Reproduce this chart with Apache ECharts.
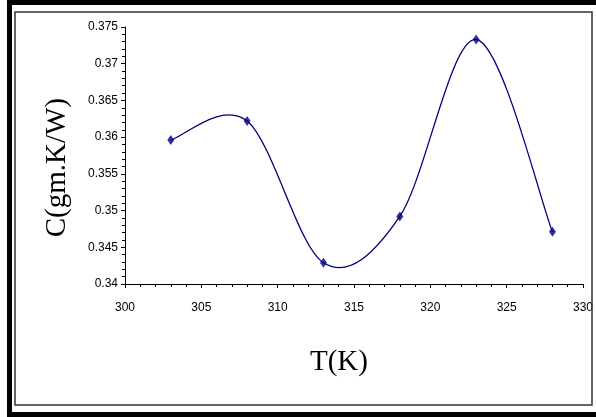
<!DOCTYPE html>
<html>
<head>
<meta charset="utf-8">
<script src="https://cdn.jsdelivr.net/npm/echarts@6/dist/echarts.min.js"></script>
<style>
html,body{margin:0;padding:0;background:#fff;}
#chart{width:596px;height:417px;}
</style>
</head>
<body>
<div id="chart"></div>
<script>
const temperatures = [303, 308, 313, 318, 323, 328];
const capacity = [0.3596, 0.3622, 0.3429, 0.3492, 0.3733, 0.3471];
const xTitle = 'T(K)';
const yTitle = 'C(gm.K/W)';

const chart = echarts.init(document.getElementById('chart'), null, {renderer: 'canvas'});
const labelFont = '"Liberation Sans Narrow", "Arial Narrow", "Liberation Sans", Arial, sans-serif';
const titleFont = '"Liberation Serif", "Times New Roman", serif';

// Smooth curve (Catmull-Rom style, like spreadsheet smoothing) through the data,
// positioned through the chart's own axes via api.coord.
function renderCurve(params, api) {
  const pts = temperatures.map((t, i) => api.coord([t, capacity[i]]));
  let d = 'M' + pts[0][0] + ' ' + pts[0][1];
  for (let i = 0; i < pts.length - 1; i++) {
    const p0 = pts[Math.max(i - 1, 0)];
    const p1 = pts[i];
    const p2 = pts[i + 1];
    const p3 = pts[Math.min(i + 2, pts.length - 1)];
    const c1 = [p1[0] + (p2[0] - p0[0]) / 6, p1[1] + (p2[1] - p0[1]) / 6];
    const c2 = [p2[0] - (p3[0] - p1[0]) / 6, p2[1] - (p3[1] - p1[1]) / 6];
    d += ' C' + c1[0] + ' ' + c1[1] + ' ' + c2[0] + ' ' + c2[1] + ' ' + p2[0] + ' ' + p2[1];
  }
  return {
    type: 'path',
    shape: {pathData: d},
    style: {fill: 'none', stroke: '#000080', lineWidth: 1.3}
  };
}

chart.setOption({
  animation: false,
  backgroundColor: '#fff',
  grid: {left: 125, right: 13, top: 27, bottom: 133, containLabel: false},
  xAxis: {
    type: 'value', min: 300, max: 330, interval: 5,
    axisLine: {show: true, onZero: false, lineStyle: {color: '#000', width: 1}},
    axisTick: {show: true, inside: false, length: 4, lineStyle: {color: '#000'}},
    minorTick: {show: true, splitNumber: 5, length: 3, lineStyle: {color: '#000'}},
    splitLine: {show: false},
    axisLabel: {color: '#000', fontFamily: labelFont, fontSize: 12, margin: 18}
  },
  yAxis: {
    type: 'value', min: 0.34, max: 0.375, interval: 0.005,
    axisLine: {show: true, onZero: false, lineStyle: {color: '#000', width: 1}},
    axisTick: {show: true, inside: false, length: 4, lineStyle: {color: '#000'}},
    minorTick: {show: true, splitNumber: 5, length: 3, lineStyle: {color: '#000'}},
    splitLine: {show: false},
    axisLabel: {color: '#000', fontFamily: labelFont, fontSize: 12, margin: 7,
      formatter: v => String(parseFloat(v.toFixed(3)))}
  },
  series: [
    {
      type: 'custom',
      data: [[temperatures[0], capacity[0]]],
      renderItem: renderCurve,
      silent: true,
      z: 2
    },
    {
      type: 'scatter',
      data: temperatures.map((t, i) => [t, capacity[i]]),
      symbol: 'diamond',
      symbolSize: [7, 10],
      itemStyle: {color: '#000080'},
      z: 3
    }
  ],
  graphic: [
    {type: 'text', left: 43, top: 98, rotation: Math.PI / 2,
      style: {text: yTitle, fill: '#000', font: '29px ' + titleFont}},
    {type: 'text', left: 310, top: 348,
      style: {text: xTitle, fill: '#000', font: '29px ' + titleFont}},
    {type: 'rect', shape: {x: 9.5, y: 2.5, width: 600, height: 412}, style: {fill: 'none', stroke: '#000', lineWidth: 5}, z: 100},
    {type: 'rect', shape: {x: 15, y: 12, width: 577, height: 393}, style: {fill: 'none', stroke: '#333', lineWidth: 1.5}, z: 100}
  ]
});
</script>
</body>
</html>
